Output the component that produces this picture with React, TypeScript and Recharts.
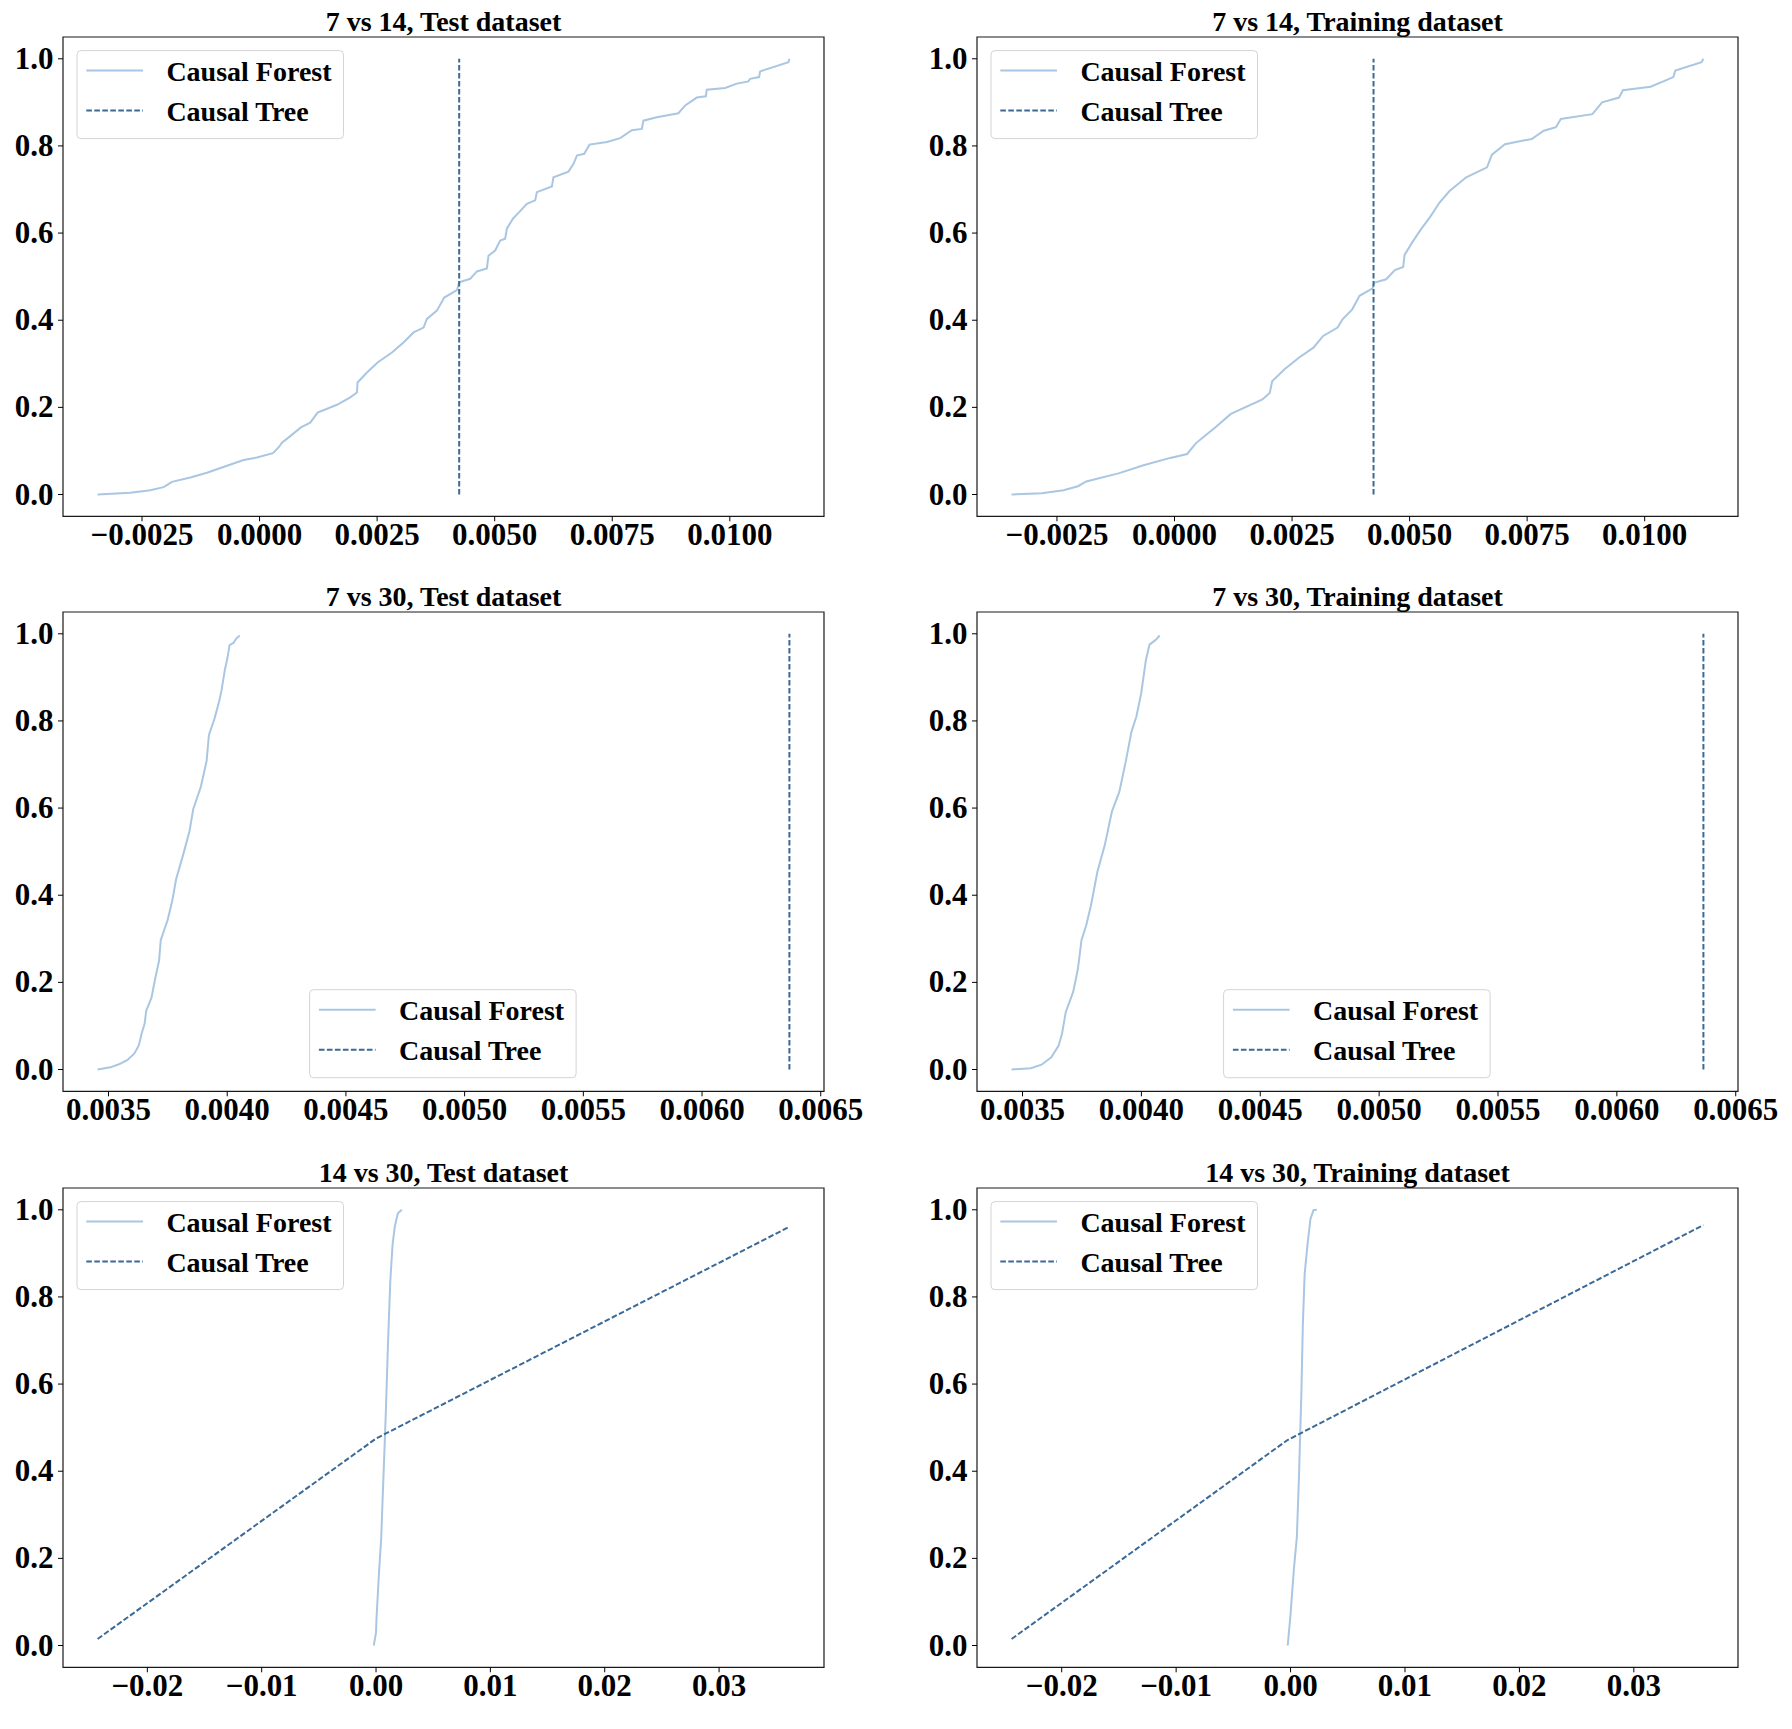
import React from "react";
import { LineChart, Line, XAxis, YAxis, ReferenceArea } from "recharts";

// CDF points [effect, cumulative share]
const forest714Test = [
  [-0.003444, 0.0], [-0.002749, 0.004], [-0.002323, 0.01], [-0.002041, 0.017],
  [-0.001862, 0.029], [-0.001473, 0.039], [-0.001118, 0.05], [-0.000693, 0.066],
  [-0.00034, 0.079], [-0.000055, 0.085], [0.000285, 0.095], [0.000404, 0.108],
  [0.000476, 0.119], [0.000653, 0.134], [0.00088, 0.154], [0.001078, 0.165],
  [0.001234, 0.188], [0.001646, 0.206], [0.001929, 0.223], [0.002071, 0.234],
  [0.002084, 0.257], [0.002284, 0.28], [0.002509, 0.303], [0.002815, 0.326],
  [0.003061, 0.349], [0.003274, 0.372], [0.003487, 0.383], [0.003559, 0.403],
  [0.003771, 0.422], [0.003927, 0.452], [0.004197, 0.469], [0.004245, 0.487],
  [0.004479, 0.495], [0.004621, 0.512], [0.004834, 0.519], [0.004868, 0.548],
  [0.00501, 0.56], [0.005117, 0.583], [0.005223, 0.587], [0.005259, 0.61],
  [0.005387, 0.633], [0.005521, 0.648], [0.005684, 0.667], [0.005861, 0.675],
  [0.005897, 0.694], [0.006216, 0.707], [0.00625, 0.728], [0.006569, 0.741],
  [0.006676, 0.759], [0.006748, 0.778], [0.006903, 0.782], [0.007016, 0.803],
  [0.007386, 0.809], [0.007668, 0.818], [0.007917, 0.836], [0.008129, 0.839],
  [0.008163, 0.858], [0.008448, 0.866], [0.008907, 0.875], [0.00905, 0.893],
  [0.009298, 0.911], [0.00949, 0.914], [0.009511, 0.929], [0.0099, 0.933],
  [0.010149, 0.943], [0.010395, 0.948], [0.010431, 0.954], [0.010623, 0.958],
  [0.010644, 0.971], [0.011246, 0.992], [0.011267, 1.0],
];
const forest714Train = [
  [-0.003465, 0.0], [-0.002826, 0.003], [-0.00236, 0.01], [-0.002052, 0.019],
  [-0.001876, 0.03], [-0.001174, 0.049], [-0.000659, 0.067], [-0.000092, 0.084],
  [0.00027, 0.093], [0.000457, 0.118], [0.000663, 0.136], [0.00089, 0.156],
  [0.001199, 0.185], [0.00187, 0.218], [0.002026, 0.233], [0.002077, 0.26],
  [0.002334, 0.287], [0.002644, 0.314], [0.002955, 0.337], [0.003161, 0.364],
  [0.003469, 0.383], [0.003573, 0.402], [0.00378, 0.425], [0.003935, 0.456],
  [0.004213, 0.473], [0.004243, 0.486], [0.004502, 0.494], [0.004687, 0.515],
  [0.004863, 0.522], [0.004893, 0.55], [0.00507, 0.581], [0.005244, 0.609],
  [0.005431, 0.636], [0.005637, 0.67], [0.005844, 0.696], [0.006205, 0.728],
  [0.006647, 0.751], [0.006751, 0.78], [0.007029, 0.804], [0.007597, 0.816],
  [0.007854, 0.835], [0.008113, 0.843], [0.008216, 0.862], [0.008888, 0.873],
  [0.009094, 0.9], [0.009455, 0.911], [0.009538, 0.928], [0.010125, 0.936],
  [0.010435, 0.95], [0.010609, 0.958], [0.010652, 0.973], [0.011209, 0.992],
  [0.011249, 1.0],
];
const tree714Test = [[0.004245, 0.0], [0.004245, 1.0]];
const tree714Train = [[0.004233, 0.0], [0.004233, 1.0]];

const forest730Test = [
  [0.003454, 0.0], [0.003508, 0.005], [0.003544, 0.012], [0.00358, 0.022],
  [0.003609, 0.037], [0.003628, 0.056], [0.00364, 0.084], [0.003652, 0.105],
  [0.003659, 0.135], [0.003681, 0.165], [0.003696, 0.207], [0.003713, 0.25],
  [0.00372, 0.297], [0.003749, 0.343], [0.003768, 0.386], [0.003785, 0.437],
  [0.003816, 0.496], [0.003841, 0.547], [0.003857, 0.598], [0.003889, 0.649],
  [0.003913, 0.708], [0.003923, 0.768], [0.003947, 0.806], [0.003966, 0.845],
  [0.003976, 0.87], [0.00399, 0.917], [0.004, 0.942], [0.00401, 0.974],
  [0.004026, 0.979], [0.004038, 0.989], [0.004053, 0.996],
];
const forest730Train = [
  [0.003454, 0.0], [0.003535, 0.003], [0.00358, 0.011], [0.003621, 0.028],
  [0.003652, 0.055], [0.003666, 0.082], [0.003682, 0.132], [0.003713, 0.178],
  [0.003733, 0.231], [0.003748, 0.297], [0.003768, 0.331], [0.003788, 0.377],
  [0.003815, 0.454], [0.003846, 0.515], [0.003876, 0.592], [0.003907, 0.637],
  [0.003934, 0.706], [0.003958, 0.775], [0.003979, 0.81], [0.003999, 0.863],
  [0.004019, 0.94], [0.004034, 0.975], [0.00406, 0.986], [0.004077, 0.996],
];
const tree730Test = [[0.006368, 0.0], [0.006368, 1.0]];
const tree730Train = [[0.006364, 0.0], [0.006364, 1.0]];

const forest1430Test = [
  [-0.0002, 0.0], [0.0, 0.03], [0.00004, 0.062], [0.00025, 0.163],
  [0.00045, 0.246], [0.00065, 0.388], [0.00085, 0.53], [0.00105, 0.696],
  [0.00125, 0.838], [0.00145, 0.921], [0.00165, 0.963], [0.00191, 0.992],
  [0.00226, 1.0],
];
const forest1430Train = [
  [-0.00025, 0.0], [-0.00003, 0.063], [0.0003, 0.178], [0.00055, 0.249],
  [0.00072, 0.376], [0.00094, 0.574], [0.00107, 0.733], [0.00123, 0.852],
  [0.00149, 0.923], [0.00174, 0.979], [0.002, 0.999], [0.00229, 1.0],
];
const tree1430Test = [[-0.02435, 0.015], [0.0, 0.475], [0.03615, 0.961]];
const tree1430Train = [[-0.02438, 0.015], [-0.0003, 0.471], [0.03608, 0.965]];

const ticks714 = [-0.0025, 0, 0.0025, 0.005, 0.0075, 0.01];
const ticks730 = [0.0035, 0.004, 0.0045, 0.005, 0.0055, 0.006, 0.0065];
const ticks1430 = [-0.02, -0.01, 0, 0.01, 0.02, 0.03];
const yTicks = [0, 0.2, 0.4, 0.6, 0.8, 1.0];

const FOREST_COLOR = "#a9c6e2";
const TREE_COLOR = "#3b6a98";
const DASH = "5.6 2.4";
const FONT = '"Liberation Serif", "Times New Roman", serif';

// layout (px)
const AXES_LEFT = [63.3, 976.7];
const AXES_TOP = [36.7, 612.3, 1187.9];
const PLOT_W = 761;
const PLOT_H = 479.3;
const Y_W = 80;
const M_TOP = 40;
const X_H = 60;
const CW = 900;
const CH = M_TOP + PLOT_H + X_H;

const toPoints = (arr: number[][]) => arr.map(([x, y]) => ({ x, y }));

const fmt = (v: number, d: number) => v.toFixed(d).replace("-", "\u2212");

const PANELS = [
  { title: "7 vs 14, Test dataset", forest: forest714Test, tree: tree714Test, ticks: ticks714, decimals: 4, legendLow: false, row: 0, col: 0 },
  { title: "7 vs 14, Training dataset", forest: forest714Train, tree: tree714Train, ticks: ticks714, decimals: 4, legendLow: false, row: 0, col: 1 },
  { title: "7 vs 30, Test dataset", forest: forest730Test, tree: tree730Test, ticks: ticks730, decimals: 4, legendLow: true, row: 1, col: 0 },
  { title: "7 vs 30, Training dataset", forest: forest730Train, tree: tree730Train, ticks: ticks730, decimals: 4, legendLow: true, row: 1, col: 1 },
  { title: "14 vs 30, Test dataset", forest: forest1430Test, tree: tree1430Test, ticks: ticks1430, decimals: 2, legendLow: false, row: 2, col: 0 },
  { title: "14 vs 30, Training dataset", forest: forest1430Train, tree: tree1430Train, ticks: ticks1430, decimals: 2, legendLow: false, row: 2, col: 1 },
];

const Legend = ({ x, y }: { x: number; y: number }) => (
  <g transform={`translate(${x},${y})`}>
    <rect x={0} y={0} width={266.5} height={88} rx={4} fill="#fff" fillOpacity={0.8} stroke="#d4d4d4" strokeWidth={1} />
    <line x1={9.3} x2={66} y1={20} y2={20} stroke={FOREST_COLOR} strokeWidth={2} />
    <line x1={9.3} x2={66} y1={60} y2={60} stroke={TREE_COLOR} strokeWidth={2} strokeDasharray={DASH} />
    <text x={89.4} y={30} fontFamily={FONT} fontWeight="bold" fontSize={28} fill="#000">Causal Forest</text>
    <text x={89.4} y={70} fontFamily={FONT} fontWeight="bold" fontSize={28} fill="#000">Causal Tree</text>
  </g>
);

const Panel = ({ p }: { p: (typeof PANELS)[number] }) => {
  const forestData = toPoints(p.forest);
  const treeData = toPoints(p.tree);
  const xs = [...p.forest, ...p.tree].map((d) => d[0]);
  const lo = Math.min(...xs);
  const hi = Math.max(...xs);
  const pad = (hi - lo) * 0.05;
  const domain: [number, number] = [lo - pad, hi + pad];

  const xTick = (props: any) => (
    <text x={props.x} y={props.y + 24} textAnchor="middle" fontFamily={FONT} fontWeight="bold" fontSize={31} fill="#000">
      {fmt(props.payload.value, p.decimals)}
    </text>
  );
  const yTick = (props: any) => (
    <text x={props.x - 4.5} y={props.y + 10} textAnchor="end" fontFamily={FONT} fontWeight="bold" fontSize={31} fill="#000">
      {fmt(props.payload.value, 1)}
    </text>
  );

  const legendX = p.legendLow ? Y_W + 246.6 : Y_W + 14;
  const legendY = p.legendLow ? M_TOP + 377.7 : M_TOP + 13.6;

  return (
    <div style={{ position: "absolute", left: AXES_LEFT[p.col] - Y_W, top: AXES_TOP[p.row] - M_TOP, width: CW, height: CH }}>
      <LineChart width={CW} height={CH} margin={{ top: M_TOP, right: CW - Y_W - PLOT_W, bottom: 0, left: 0 }}>
        <XAxis
          type="number"
          dataKey="x"
          domain={domain}
          allowDataOverflow
          ticks={p.ticks}
          interval={0}
          height={X_H}
          tickSize={5}
          tickMargin={0}
          axisLine={false}
          tickLine={{ stroke: "#000", strokeWidth: 1 }}
          tick={xTick}
        />
        <YAxis
          type="number"
          dataKey="y"
          domain={[-0.05, 1.05]}
          allowDataOverflow
          ticks={yTicks}
          interval={0}
          width={Y_W}
          tickSize={5}
          tickMargin={0}
          axisLine={false}
          tickLine={{ stroke: "#000", strokeWidth: 1 }}
          tick={yTick}
        />
        <ReferenceArea x1={domain[0]} x2={domain[1]} y1={-0.05} y2={1.05} fill="none" stroke="#1a1a1a" strokeWidth={1.2} ifOverflow="visible" />
        <Line data={forestData} dataKey="y" type="linear" stroke={FOREST_COLOR} strokeWidth={2} dot={false} activeDot={false} isAnimationActive={false} />
        <Line data={treeData} dataKey="y" type="linear" stroke={TREE_COLOR} strokeWidth={2} strokeDasharray={DASH} dot={false} activeDot={false} isAnimationActive={false} />
      </LineChart>
      <svg width={CW} height={CH} style={{ position: "absolute", left: 0, top: 0, pointerEvents: "none" }}>
        <text x={Y_W + PLOT_W / 2} y={M_TOP - 6} textAnchor="middle" fontFamily={FONT} fontWeight="bold" fontSize={28} fill="#000">
          {p.title}
        </text>
        <Legend x={legendX} y={legendY} />
      </svg>
    </div>
  );
};

export default function App() {
  return (
    <div style={{ position: "absolute", left: 0, top: 0, width: 1792, height: 1729, background: "#fff", overflow: "hidden" }}>
      {PANELS.map((p) => (
        <Panel key={p.title} p={p} />
      ))}
    </div>
  );
}
